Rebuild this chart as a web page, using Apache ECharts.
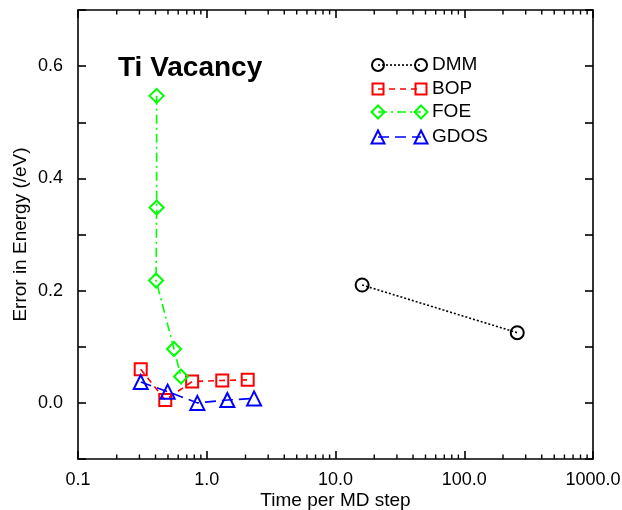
<!DOCTYPE html>
<html>
<head>
<meta charset="utf-8">
<script src="https://cdn.jsdelivr.net/npm/echarts@6/dist/echarts.min.js"></script>
<style>
  html, body { margin: 0; padding: 0; background: #fff; }
  #chart { width: 622px; height: 510px; }
</style>
</head>
<body>
<div id="chart"></div>
<script>
// Time per MD step vs. energy error for the Ti vacancy, four methods
const seriesNames = ['DMM', 'BOP', 'FOE', 'GDOS'];

const timeDMM = [16.1, 258];
const errDMM = [0.210, 0.125];

const timeBOP = [0.307, 0.476, 0.77, 1.32, 2.08];
const errBOP = [0.060, 0.005, 0.038, 0.040, 0.041];

const timeFOE = [0.408, 0.408, 0.404, 0.557, 0.631];
const errFOE = [0.547, 0.348, 0.218, 0.096, 0.047];

const timeGDOS = [0.307, 0.497, 0.845, 1.445, 2.33];
const errGDOS = [0.037, 0.020, 0.000, 0.005, 0.008];

const xMajorTicks = [0.1, 1, 10, 100, 1000];
const xTickLabels = ['0.1', '1.0', '10.0', '100.0', '1000.0'];
const yTickLabels = ['0.0', '0.2', '0.4', '0.6'];

// minor ticks of the log axis: 2..9 within each decade
const xMinorTicks = [];
for (let d = 0; d < xMajorTicks.length - 1; d++) {
  for (let m = 2; m <= 9; m++) xMinorTicks.push(+(xMajorTicks[d] * m).toPrecision(3));
}

const FONT = '"Liberation Sans", Arial, Helvetica, sans-serif';
const Y_MIN = -0.1, Y_MAX = 0.7;

const styles = {
  DMM:  { color: '#000000', dash: [2, 2],        symbol: 'circle',   size: 13 },
  BOP:  { color: '#ff0000', dash: [6, 5],        symbol: 'rect',     size: 12 },
  FOE:  { color: '#00ff00', dash: [9, 4, 2, 4],  symbol: 'diamond',  size: 14 },
  GDOS: { color: '#0000ff', dash: [11, 6],       symbol: 'triangle', size: 14 }
};

function pairs(xs, ys) { return xs.map((x, i) => [x, ys[i]]); }

function lineSeries(name, xs, ys) {
  const s = styles[name];
  return {
    name: name,
    type: 'line',
    data: pairs(xs, ys),
    symbol: s.symbol,
    symbolSize: s.size,
    showAllSymbol: true,
    lineStyle: { color: s.color, width: 1.6, type: s.dash },
    itemStyle: { color: 'rgba(0,0,0,0)', borderColor: s.color, borderWidth: 2 },
    emphasis: { disabled: true },
    z: 3
  };
}

const axisLineStyle = { color: '#000', width: 1.6 };

const option = {
  animation: false,
  backgroundColor: '#fff',
  title: {
    text: 'Ti Vacancy',
    left: 113,
    top: 49,
    textStyle: { fontFamily: FONT, fontSize: 28, fontWeight: 'bold', color: '#000' }
  },
  grid: { left: 78, right: 29, top: 10, bottom: 51, outerBoundsMode: 'none' },
  xAxis: [
    {
      type: 'log', logBase: 10, min: 0.1, max: 1000,
      position: 'bottom',
      name: 'Time per MD step', nameLocation: 'middle', nameGap: 32, nameMoveOverlap: false,
      nameTextStyle: { fontFamily: FONT, fontSize: 19, color: '#000' },
      axisLine: { onZero: false, lineStyle: axisLineStyle },
      axisTick: { inside: true, length: 8, lineStyle: axisLineStyle },
      axisLabel: {
        fontFamily: FONT, fontSize: 18, color: '#000', margin: 12,
        formatter: v => { const i = xMajorTicks.findIndex(t => Math.abs(t - v) / t < 1e-6); return i >= 0 ? xTickLabels[i] : ''; }
      },
      splitLine: { show: false }
    },
    {
      type: 'log', logBase: 10, min: 0.1, max: 1000,
      position: 'top',
      axisLine: { onZero: false, lineStyle: axisLineStyle },
      axisTick: { inside: true, length: 8, lineStyle: axisLineStyle },
      axisLabel: { show: false },
      splitLine: { show: false }
    }
  ],
  yAxis: [
    {
      type: 'value', min: Y_MIN, max: Y_MAX, interval: 0.1,
      position: 'left',
      name: 'Error in Energy (/eV)', nameLocation: 'middle', nameGap: 48, nameMoveOverlap: false,
      nameTextStyle: { fontFamily: FONT, fontSize: 19, color: '#000' },
      axisLine: { onZero: false, lineStyle: axisLineStyle },
      axisTick: { inside: true, length: 8, lineStyle: axisLineStyle },
      axisLabel: {
        fontFamily: FONT, fontSize: 18, color: '#000', margin: 15,
        formatter: v => { const k = Math.round(v * 10); return (k >= 0 && k % 2 === 0) ? yTickLabels[k / 2] : ''; }
      },
      splitLine: { show: false }
    },
    {
      type: 'value', min: Y_MIN, max: Y_MAX, interval: 0.1,
      position: 'right',
      axisLine: { show: true, onZero: false, lineStyle: axisLineStyle },
      axisTick: { show: true, inside: true, length: 8, lineStyle: axisLineStyle },
      axisLabel: { show: false },
      splitLine: { show: false }
    }
  ],
  series: [
    {
      // minor ticks of the log axis, bottom and top edges
      type: 'custom',
      silent: true,
      data: xMinorTicks.map(v => [v]),
      renderItem: function (params, api) {
        const x = api.value(0);
        const b = api.coord([x, Y_MIN]);
        const t = api.coord([x, Y_MAX]);
        const st = { stroke: '#000', lineWidth: 1.4 };
        return {
          type: 'group',
          children: [
            { type: 'line', shape: { x1: b[0], y1: b[1], x2: b[0], y2: b[1] - 4.5 }, style: st },
            { type: 'line', shape: { x1: t[0], y1: t[1], x2: t[0], y2: t[1] + 4.5 }, style: st }
          ]
        };
      },
      z: 4
    },
    lineSeries('DMM', timeDMM, errDMM),
    lineSeries('BOP', timeBOP, errBOP),
    lineSeries('FOE', timeFOE, errFOE),
    lineSeries('GDOS', timeGDOS, errGDOS)
  ],
  graphic: []
};

// Legend drawn as line samples with a symbol at each end
function symbolShape(kind, cx, cy, size, color) {
  const h = size / 2;
  const style = { fill: 'none', stroke: color, lineWidth: 2 };
  if (kind === 'circle') return { type: 'circle', shape: { cx: cx, cy: cy, r: h }, style: style };
  if (kind === 'rect') return { type: 'rect', shape: { x: cx - h, y: cy - h, width: size, height: size }, style: style };
  if (kind === 'diamond') return { type: 'polygon', shape: { points: [[cx, cy - h], [cx + h, cy], [cx, cy + h], [cx - h, cy]] }, style: style };
  return { type: 'polygon', shape: { points: [[cx, cy - h], [cx + h, cy + h], [cx - h, cy + h]] }, style: style };
}

const legendRows = [65, 89, 112, 137];
const legendX1 = 378, legendX2 = 421, legendTextX = 432;
seriesNames.forEach((name, i) => {
  const s = styles[name];
  const y = legendRows[i];
  option.graphic.push({
    type: 'line',
    shape: { x1: legendX1, y1: y, x2: legendX2, y2: y },
    style: { stroke: s.color, lineWidth: 1.6, lineDash: s.dash }
  });
  option.graphic.push(symbolShape(s.symbol, legendX1, y, s.size - 1, s.color));
  option.graphic.push(symbolShape(s.symbol, legendX2, y, s.size - 1, s.color));
  option.graphic.push({
    type: 'text',
    x: legendTextX, y: y,
    style: { text: name, fontFamily: FONT, fontSize: 19, fill: '#000', verticalAlign: 'middle', align: 'left' }
  });
});

const chart = echarts.init(document.getElementById('chart'), null, { renderer: 'canvas' });
chart.setOption(option);
</script>
</body>
</html>
